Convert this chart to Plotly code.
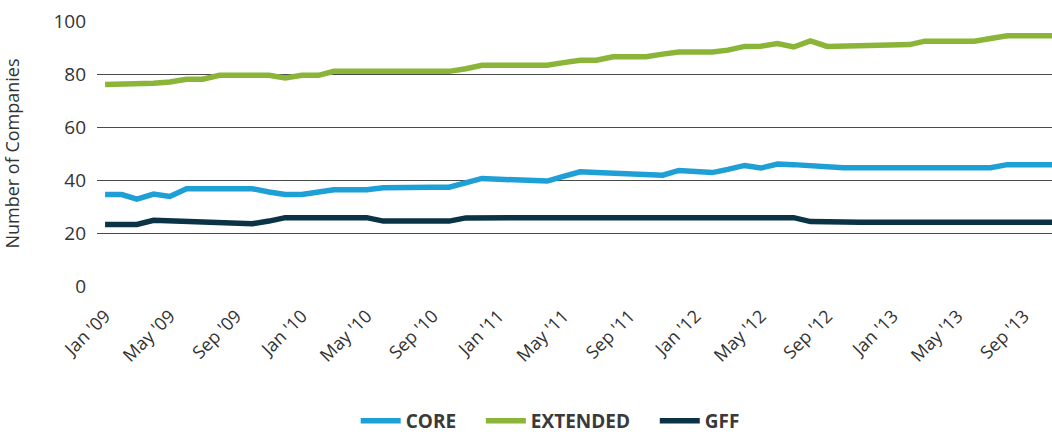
import plotly.graph_objects as go
import pandas as pd

months = pd.date_range("2009-01-01", "2013-11-01", freq="MS")

core = [34.5, 34.5, 32.8, 34.7, 33.8, 36.7, 36.7, 36.7, 36.7, 36.7, 35.5, 34.5,
        34.5, 35.5, 36.3, 36.3, 36.3, 37.1, 37.3, 37.3, 37.3, 37.3, 39.0, 40.6,
        40.3, 40.0, 39.8, 39.6, 41.4, 43.1, 42.8, 42.6, 42.3, 42.0, 41.8, 43.6,
        43.2, 42.8, 44.0, 45.5, 44.5, 46.0, 45.8, 45.3, 44.6, 44.6, 44.6, 44.6,
        44.6, 44.6, 44.6, 44.6, 44.6, 44.6, 44.6, 45.8, 45.8, 45.8, 45.8]

extended = [76.0, 76.0, 76.0, 76.5, 77.0, 78.0, 78.0, 79.5, 79.5, 79.5, 79.5, 78.5,
            79.5, 79.5, 81.0, 81.0, 81.0, 81.0, 81.0, 81.0, 81.0, 81.0, 82.0, 83.3,
            83.3, 83.3, 83.3, 83.3, 84.3, 85.2, 85.2, 86.5, 86.5, 86.5, 87.5, 88.3,
            88.3, 88.3, 89.0, 90.4, 90.5, 91.5, 90.2, 92.5, 90.4, 90.6, 90.8, 90.8,
            90.8, 91.1, 92.4, 92.4, 92.4, 92.4, 93.4, 94.4, 94.4, 94.4, 94.4]

gff = [23.2, 23.2, 23.2, 24.8, 24.6, 24.5, 24.3, 24.1, 23.9, 23.5, 24.5, 25.8,
       25.8, 25.8, 25.8, 25.8, 25.8, 24.5, 24.5, 24.5, 24.5, 24.5, 25.7, 25.8,
       25.8, 25.8, 25.8, 25.8, 25.8, 25.8, 25.8, 25.8, 25.8, 25.8, 25.8, 25.8,
       25.8, 25.8, 25.8, 25.8, 25.8, 25.8, 25.8, 24.3, 24.1, 24.1, 24.1, 24.1,
       24.1, 24.1, 24.1, 24.1, 24.1, 24.1, 24.1, 24.1, 24.1, 24.1, 24.1]

tick_dates = pd.date_range("2009-01-01", "2013-09-01", freq="4MS")
tick_labels = [d.strftime("%b '%y") for d in tick_dates]

series = [("CORE", core, "#1E9FD6"),
          ("EXTENDED", extended, "#8AB538"),
          ("GFF", gff, "#0A3346")]

pad = "\u00a0" * 4
fig = go.Figure()
for i, (name, vals, color) in enumerate(series):
    label = name + (pad if i < len(series) - 1 else "")
    fig.add_trace(go.Scatter(x=months, y=vals, name=label, mode="lines",
                             line=dict(color=color, width=5.5)))

fig.update_layout(
    width=1052, height=434,
    margin=dict(l=97, r=0, t=21, b=148),
    plot_bgcolor="white", paper_bgcolor="white",
    font=dict(family="Open Sans", color="#333333", size=18),
    showlegend=True,
    legend=dict(orientation="h", xref="container", yref="container",
                x=0.523, y=0.03, xanchor="center", yanchor="middle",
                font=dict(size=19, color="#3a3a3a", family="Open Sans", weight=700),
                itemwidth=40, tracegroupgap=0),
    xaxis=dict(range=["2008-12-17", "2013-10-23"], tickvals=tick_dates,
               ticktext=tick_labels, tickangle=-45, showgrid=False,
               zeroline=False, showline=False, ticks="",
               ticklabelstandoff=15,
               tickfont=dict(size=18)),
    yaxis=dict(range=[0, 100], tickvals=[0, 20, 40, 60, 80, 100],
               showgrid=True, gridcolor="#4a4a4a", gridwidth=1.3,
               zeroline=False, showline=False, ticks="",
               ticklabelstandoff=10,
               title=dict(text="Number of Companies", standoff=29,
                          font=dict(size=18)),
               tickfont=dict(size=19)),
)

fig.write_html("out.html", config={"displayModeBar": False},
               post_script="document.body.style.margin='0';document.body.style.overflow='hidden';")
